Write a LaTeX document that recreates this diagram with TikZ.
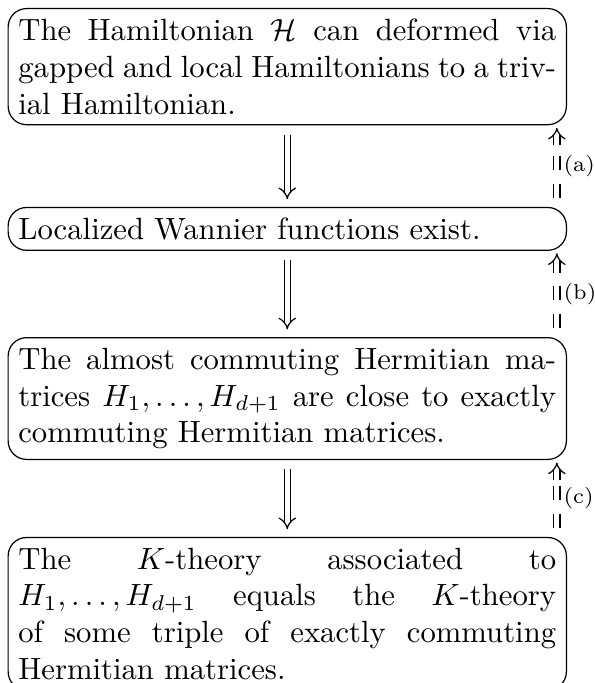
\documentclass[tikz,border=0pt]{standalone}
\usetikzlibrary{arrows.meta}
\begin{document}
\begin{tikzpicture}[x=1pt,y=1pt,
  claim/.style={draw, rounded corners=6pt, anchor=north west, text width=175.2pt, align=justify, inner sep=3.33pt, line width=0.4pt},
  implyarrow/.style={double, double distance=1.6pt, line width=0.4pt, -{Implies}, shorten <=3pt, shorten >=2.5pt},
  backline/.style={double, double distance=1.6pt, line width=0.4pt, shorten <=3pt, shorten >=6.3pt, dash pattern=on 4.5pt off 4.5pt},
  backtip/.style={double, double distance=1.6pt, line width=0.4pt, -{Implies}},
  tag/.style={font=\scriptsize, inner sep=2pt, right}]
\useasboundingbox (0,0) rectangle (193.8,-222.5);
\node[claim] (b1) at (2.45,-2.6) {The Hamiltonian $\mathcal{H}$ can deformed via gapped and local Hamiltonians to a triv-\linebreak ial Hamiltonian.};
\node[claim] (b2) at (2.45,-67.4) {Localized Wannier functions exist.};
\node[claim] (b3) at (2.45,-109.8) {The almost commuting Hermitian ma-\linebreak trices $H_1,\dots,H_{d+1}$ are close to exactly\linebreak commuting Hermitian matrices.};
\node[claim] (b4) at (2.45,-174.9) {The $K$-theory associated to\linebreak $H_1,\dots,H_{d+1}$ equals the $K$-theory\linebreak of some triple of exactly commuting\linebreak Hermitian matrices.};
\draw[implyarrow] (b1.south) -- (b2.north);
\draw[implyarrow] (b2.south) -- (b3.north);
\draw[implyarrow] (b3.south) -- (b4.north);
\foreach \lo/\hi/\lab in {b2/b1/a, b3/b2/b, b4/b3/c}{
  \draw[backline] ([xshift=-3.3pt]\lo.north east) -- node[tag] {(\lab)} ([xshift=-3.3pt]\hi.south east);
  \draw[backtip] ([xshift=-3.3pt,yshift=-6.5pt]\hi.south east) -- ([xshift=-3.3pt,yshift=-0.8pt]\hi.south east);
}
\end{tikzpicture}
\end{document}
